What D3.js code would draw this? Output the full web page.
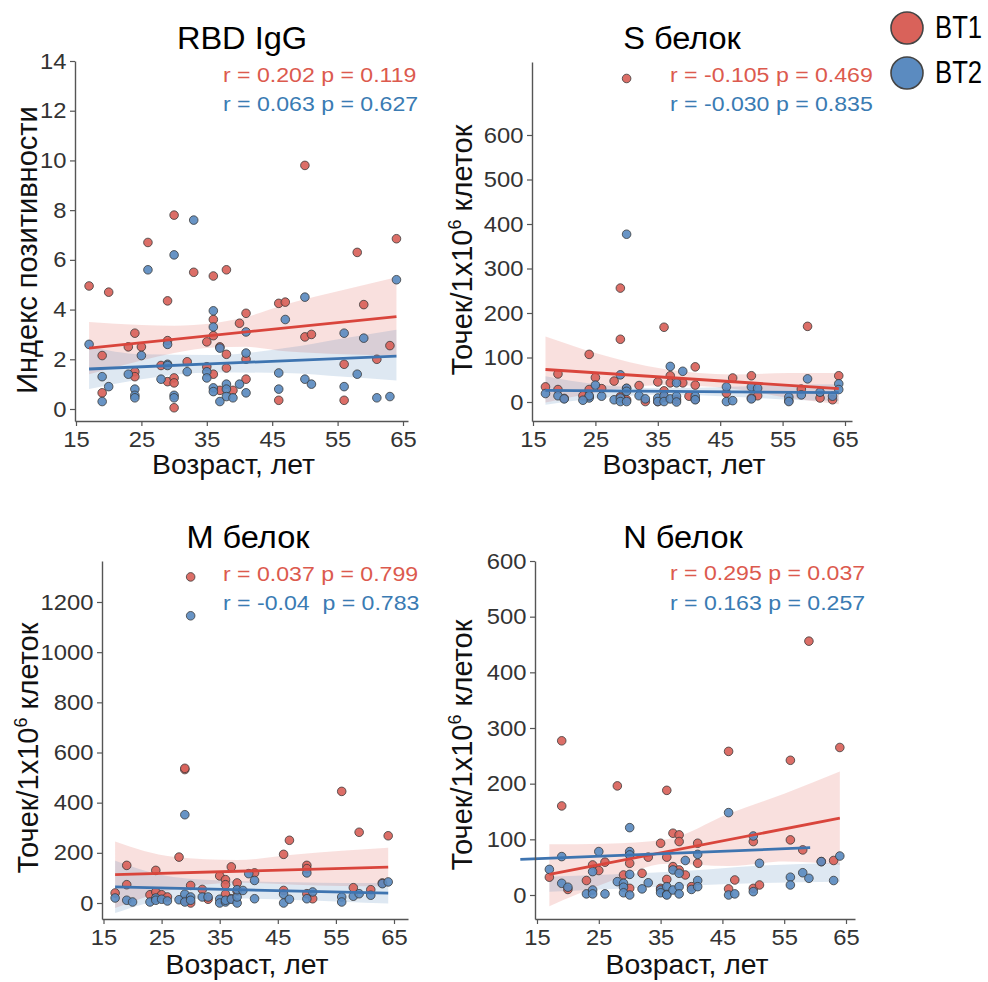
<!DOCTYPE html>
<html>
<head>
<meta charset="utf-8">
<script src="https://cdn.jsdelivr.net/npm/d3@7/dist/d3.min.js"></script>
<style>
  html, body { margin: 0; padding: 0; background: #fff; }
  svg { display: block; font-family: "Liberation Sans", Arial, Helvetica, sans-serif; }
</style>
</head>
<body>
<svg id="chart" width="988" height="982"></svg>
<script>
// ---- data: [age, value] per group ----
const rbdBT1 = [[17,4.95],[20,4.7],[26,6.7],[30,7.8],[29,4.35],[33,5.5],[36,5.35],[38,5.6],[50,9.8],[58,6.3],[64,6.85],[46,4.25],[47,4.3],[59,4.2],[41,3.85],[40,3.45],[36,3.6],[36,2.95],[35,2.7],[24,3.05],[23,2.5],[25,2.5],[29,2.75],[37,2.5],[38,2.2],[50,2.9],[51,3.0],[63,2.55],[19,2.15],[32,1.9],[28,1.75],[38,1.65],[35,1.7],[56,1.8],[61,2.0],[24,1.5],[24,1.3],[36,1.4],[29,1.1],[30,1.25],[30,1.05],[41,1.2],[19,0.65],[37,0.75],[39,0.75],[46,0.35],[56,0.35],[30,0.05],[41,2.0]];
const rbdBT2 = [[33,7.6],[30,6.2],[26,5.6],[64,5.2],[50,4.5],[36,3.95],[47,3.6],[36,3.3],[41,3.1],[56,3.05],[59,2.85],[17,2.6],[29,2.6],[37,2.45],[41,2.25],[25,2.15],[29,1.8],[29,1.75],[32,1.5],[23,1.4],[28,1.2],[35,1.5],[35,1.25],[19,1.3],[20,0.9],[46,1.45],[58,1.4],[50,1.2],[51,1.0],[40,1.0],[38,1.0],[38,0.8],[24,0.8],[24,0.55],[24,0.45],[36,0.85],[36,0.7],[41,0.65],[46,0.8],[56,0.9],[30,0.55],[30,0.45],[38,0.5],[39,0.45],[37,0.3],[19,0.3],[61,0.45],[63,0.5]];

const sBT1 = [[30,727],[29,256],[29,141],[36,168],[59,170],[24,107],[19,63],[17,34],[19,28],[25,55],[24,28],[26,30],[28,47],[23,14],[30,30],[32,37],[35,45],[37,59],[37,43],[39,43],[41,79],[41,38],[36,25],[40,13],[33,1],[35,1],[47,54],[50,59],[46,20],[51,14],[50,9],[58,29],[61,9],[63,5],[64,59],[30,5],[38,5],[29,12],[20,8],[56,3],[36,10],[41,6],[24,12]];
const sBT2 = [[30,377],[37,80],[39,69],[29,61],[59,52],[64,41],[17,19],[19,14],[20,7],[25,38],[26,13],[24,9],[24,14],[23,4],[28,5],[29,9],[29,1],[30,31],[30,24],[30,1],[32,14],[33,7],[35,9],[35,1],[36,14],[36,1],[37,7],[38,43],[38,13],[38,0],[41,13],[41,5],[46,34],[46,1],[47,3],[50,34],[50,7],[51,31],[56,11],[56,1],[58,16],[61,22],[63,13],[64,28]];

const mBT1 = [[30,1300],[29,532],[29,537],[56,445],[59,282],[64,268],[47,250],[46,194],[28,183],[19,150],[24,130],[37,144],[50,150],[50,137],[41,120],[17,40],[19,73],[23,33],[24,44],[25,33],[26,24],[30,70],[32,54],[33,15],[35,108],[36,93],[36,73],[36,35],[38,80],[38,47],[37,17],[30,0],[29,11],[46,50],[51,17],[50,37],[58,61],[61,53],[63,80]];
const mBT2 = [[30,1145],[29,352],[40,117],[50,120],[41,90],[17,20],[19,11],[20,4],[23,4],[24,20],[24,11],[25,15],[26,8],[28,13],[29,35],[29,4],[30,24],[30,11],[32,24],[33,24],[35,15],[35,0],[36,4],[36,11],[37,15],[38,0],[38,24],[38,53],[39,50],[41,17],[46,35],[46,0],[47,15],[50,17],[51,44],[56,24],[56,4],[58,27],[59,37],[61,31],[63,77],[64,84]];

const nBT1 = [[59,456],[19,277],[46,258],[64,265],[56,242],[28,196],[36,188],[19,160],[37,111],[38,108],[38,96],[35,93],[41,93],[50,96],[56,99],[58,81],[17,32],[20,10],[23,26],[24,54],[25,44],[26,59],[29,36],[30,12],[30,57],[30,72],[32,39],[33,68],[35,12],[36,68],[36,28],[37,51],[38,45],[39,36],[40,15],[41,57],[46,11],[47,27],[50,12],[51,18],[63,62],[61,60]];
const nBT2 = [[46,148],[30,121],[19,69],[25,78],[30,78],[30,72],[41,73],[39,62],[51,57],[50,106],[61,60],[64,70],[17,46],[19,21],[20,14],[23,2],[24,9],[24,2],[24,42],[26,2],[28,24],[29,21],[29,14],[29,4],[30,37],[30,0],[32,11],[33,22],[35,9],[35,4],[36,15],[36,1],[36,0],[37,45],[37,9],[38,39],[38,15],[38,2],[40,10],[41,26],[41,15],[46,0],[47,2],[50,6],[56,32],[56,18],[58,40],[59,30],[63,26]];

// ---- fitted lines (end points) and confidence bands [age, low, high] ----
const rbdFitBT1 = [[17,2.45],[64,3.72]];
const rbdFitBT2 = [[17,1.61],[64,2.13]];
const sFitBT1 = [[17,73],[64,30]];
const sFitBT2 = [[17,26],[64,21]];
const mFitBT1 = [[17,113],[64,143]];
const mFitBT2 = [[17,64],[64,39]];
const nFitBT1 = [[17,37],[64,138]];
const nFitBT2 = [[12.3,64],[59.2,85]];

const rbdBandBT1 = [[17,1.4,3.5],[25,1.95,3.38],[30,2.25,3.35],[36,2.47,3.45],[41,2.5,3.7],[47,2.32,4.2],[56,2.2,4.8],[64,2.14,5.3]];
const rbdBandBT2 = [[17,0.8,2.5],[25,1.2,2.2],[36,1.47,2.17],[47,1.45,2.45],[56,1.3,2.85],[64,1.15,3.19]];
const sBandBT1 = [[17,-1,147],[25,21,110],[36,38,74],[47,30,62],[56,9,65],[64,-5,65]];
const sBandBT2 = [[17,-6,58],[25,8,40],[36,17,31],[47,12,34],[56,5,39],[64,2,40]];
const mBandBT1 = [[17,-20,245],[27,54,184],[38,81,171],[48,73,193],[56,68,208],[64,66,220]];
const mBandBT2 = [[17,-40,168],[27,14,104],[38,18,88],[48,12,83],[56,5,80],[64,-2,80]];
const nBandBT1 = [[17,-20,91],[26,21,92],[36,56,100],[46,52,146],[55,60,182],[64,54,222]];
const nBandBT2 = [[17,6,33],[30,12,38],[40,17,44],[50,21,52],[64,24,58]];

// ---- tick labels and annotations ----
const xTicks = [15, 25, 35, 45, 55, 65];
const rbdTicks = [0, 2, 4, 6, 8, 10, 12, 14];
const sTicks = [0, 100, 200, 300, 400, 500, 600];
const mTicks = [0, 200, 400, 600, 800, 1000, 1200];
const nTicks = [0, 100, 200, 300, 400, 500, 600];

const titles = ["RBD IgG", "S белок", "M белок", "N белок"];
const groups = ["BT1", "BT2"];
const statsBT1 = ["r = 0.202 p = 0.119", "r = -0.105 p = 0.469", "r = 0.037 p = 0.799", "r = 0.295 p = 0.037"];
const statsBT2 = ["r = 0.063 p = 0.627", "r = -0.030 p = 0.835", "r = -0.04\u00a0\u00a0p = 0.783", "r = 0.163 p = 0.257"];

const COLORS = {
  BT1: { fill: "#d9625a", line: "#d9453c", text: "#dc5a4e" },
  BT2: { fill: "#5b8bc0", line: "#3e74b0", text: "#3a7bb3" }
};

// ---- panel layout ----
const panels = [
  { title: titles[0], bt1: rbdBT1, bt2: rbdBT2, fit1: rbdFitBT1, fit2: rbdFitBT2, band1: rbdBandBT1, band2: rbdBandBT2,
    yTicks: rbdTicks, yLabel: "Индекс позитивности", superLabel: false,
    xPx: [76, 403], spineX: [75, 408], yRef: [0, 14], yPx: [409, 61], spineY: [421, 61],
    titleX: 242, titleY: 49, statX: 223, statY: [82, 111], xLabelY: 474, yLabelX: 37, yLabelY: 250 },
  { title: titles[1], bt1: sBT1, bt2: sBT2, fit1: sFitBT1, fit2: sFitBT2, band1: sBandBT1, band2: sBandBT2,
    yTicks: sTicks, superLabel: true,
    xPx: [533, 845], spineX: [532, 852], yRef: [0, 600], yPx: [402, 135], spineY: [421, 62],
    titleX: 682, titleY: 49, statX: 670, statY: [82, 111], xLabelY: 474, yLabelX: 472, yLabelY: 250 },
  { title: titles[2], bt1: mBT1, bt2: mBT2, fit1: mFitBT1, fit2: mFitBT2, band1: mBandBT1, band2: mBandBT2,
    yTicks: mTicks, superLabel: true,
    xPx: [103.5, 394], spineX: [102, 408], yRef: [0, 1200], yPx: [903, 602], spineY: [919, 561],
    titleX: 248, titleY: 548, statX: 223, statY: [581, 610], xLabelY: 974, yLabelX: 38, yLabelY: 748 },
  { title: titles[3], bt1: nBT1, bt2: nBT2, fit1: nFitBT1, fit2: nFitBT2, band1: nBandBT1, band2: nBandBT2,
    yTicks: nTicks, superLabel: true,
    xPx: [537, 846], spineX: [535, 855], yRef: [0, 600], yPx: [895, 561], spineY: [919, 561],
    titleX: 683, titleY: 548, statX: 670, statY: [580, 610], xLabelY: 974, yLabelX: 472, yLabelY: 745 }
];

const svg = d3.select("#chart");
const SX = 1.08; // horizontal widening of text glyphs

function label(g, x, y, str, opts) {
  return g.append("text")
    .attr("transform", `translate(${x},${y}) scale(${opts.sx || 1},1)`)
    .attr("text-anchor", opts.anchor || "start")
    .attr("font-size", opts.size)
    .attr("fill", opts.fill || "#111")
    .text(str);
}

panels.forEach((p, i) => {
  const g = svg.append("g");

  // scales spanning the spines, calibrated on the tick positions
  const xPer = (p.xPx[1] - p.xPx[0]) / 50;
  const xDomain = [15 + (p.spineX[0] - p.xPx[0]) / xPer, 15 + (p.spineX[1] - p.xPx[0]) / xPer];
  const x = d3.scaleLinear().domain(xDomain).range(p.spineX);
  const yPer = (p.yPx[0] - p.yPx[1]) / (p.yRef[1] - p.yRef[0]);
  const yDomain = [p.yRef[0] - (p.spineY[0] - p.yPx[0]) / yPer, p.yRef[0] + (p.yPx[0] - p.spineY[1]) / yPer];
  const y = d3.scaleLinear().domain(yDomain).range(p.spineY);

  // confidence bands
  const area = d3.area().x(d => x(d[0])).y0(d => y(d[1])).y1(d => y(d[2])).curve(d3.curveMonotoneX);
  g.append("path").datum(p.band1).attr("d", area).attr("fill", COLORS.BT1.line).attr("fill-opacity", 0.17);
  g.append("path").datum(p.band2).attr("d", area).attr("fill", COLORS.BT2.line).attr("fill-opacity", 0.17);

  // scatter points
  [["BT1", p.bt1], ["BT2", p.bt2]].forEach(([name, data]) => {
    g.append("g").selectAll("circle").data(data).join("circle")
      .attr("cx", d => x(d[0])).attr("cy", d => y(d[1])).attr("r", 4.3)
      .attr("fill", COLORS[name].fill).attr("fill-opacity", 0.92)
      .attr("stroke", "#3a3a3a").attr("stroke-width", 0.8);
  });

  // fitted lines
  const line = d3.line().x(d => x(d[0])).y(d => y(d[1]));
  g.append("path").datum(p.fit1).attr("d", line).attr("stroke", COLORS.BT1.line).attr("stroke-width", 2.8).attr("fill", "none");
  g.append("path").datum(p.fit2).attr("d", line).attr("stroke", COLORS.BT2.line).attr("stroke-width", 2.8).attr("fill", "none");

  // axes
  const xAxis = g.append("g").attr("transform", `translate(0,${p.spineY[0]})`)
    .call(d3.axisBottom(x).tickValues(xTicks).tickSize(5).tickSizeOuter(0).tickPadding(5).tickFormat(d3.format("d")));
  const yAxis = g.append("g").attr("transform", `translate(${p.spineX[0]},0)`)
    .call(d3.axisLeft(y).tickValues(p.yTicks).tickSize(5).tickSizeOuter(0).tickPadding(3).tickFormat(d3.format("d")));
  [xAxis, yAxis].forEach(a => {
    a.attr("font-family", null).attr("font-size", null);
    a.select(".domain").attr("stroke", "#555").attr("stroke-width", 1.4);
    a.selectAll(".tick line").attr("stroke", "#555").attr("stroke-width", 1.2);
    a.selectAll(".tick text").attr("font-size", 22).attr("fill", "#333")
      .attr("transform", `scale(${SX},1)`);
  });

  // title
  label(g, p.titleX, p.titleY, p.title, { anchor: "middle", size: 31, sx: 1.05, fill: "#000" });

  // statistics
  label(g, p.statX, p.statY[0], statsBT1[i], { size: 21, sx: 1.1, fill: COLORS.BT1.text });
  label(g, p.statX, p.statY[1], statsBT2[i], { size: 21, sx: 1.1, fill: COLORS.BT2.text });

  // axis titles
  const cx = (p.spineX[0] + p.spineX[1]) / 2;
  label(g, cx - 8, p.xLabelY, "Возраст, лет", { anchor: "middle", size: 27, sx: 1.05, fill: "#111" });

  const yl = g.append("text")
    .attr("transform", `translate(${p.yLabelX},${p.yLabelY}) rotate(-90)`)
    .attr("text-anchor", "middle").attr("font-size", 29).attr("fill", "#111");
  if (p.superLabel) {
    yl.append("tspan").text("Точек/1x10");
    yl.append("tspan").attr("font-size", 18).attr("dy", -11).text("6");
    yl.append("tspan").attr("dy", 11).text(" клеток");
  } else {
    yl.text(p.yLabel);
  }
});

// legend
const legend = svg.append("g");
groups.forEach((name, k) => {
  const cy = 28 + k * 45;
  legend.append("circle").attr("cx", 907).attr("cy", cy).attr("r", 16)
    .attr("fill", COLORS[name].fill).attr("stroke", "#444").attr("stroke-width", 1.6);
  label(legend, 935, cy + 10, name, { size: 31, sx: 0.83, fill: "#000" });
});
</script>
</body>
</html>
